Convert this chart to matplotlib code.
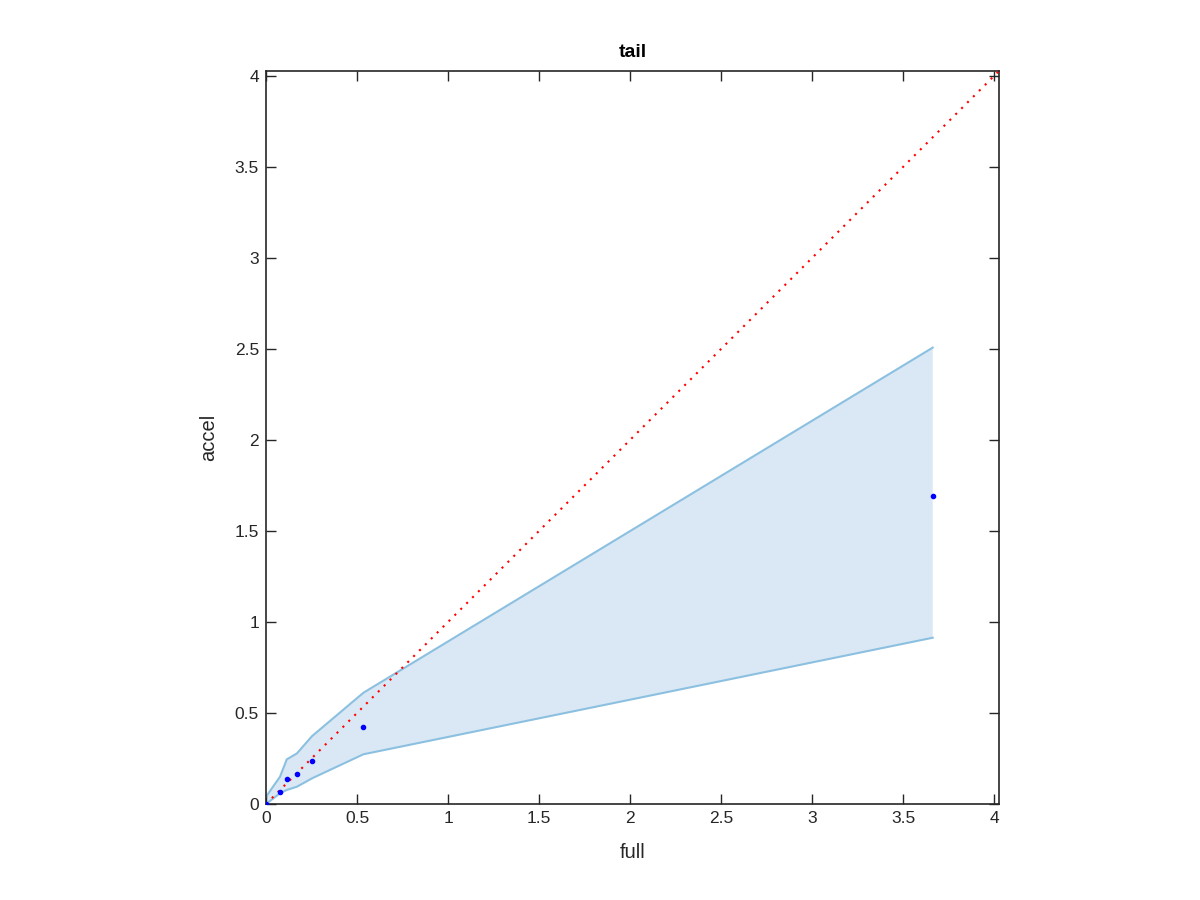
import matplotlib
matplotlib.use("Agg")
import matplotlib.pyplot as plt
import numpy as np

full = [0.0, 0.077, 0.114, 0.170, 0.253, 0.535, 3.661]
accel = [0.0, 0.068, 0.136, 0.167, 0.236, 0.421, 1.689]
upper = [0.04, 0.15, 0.245, 0.278, 0.373, 0.611, 2.506]
lower = [0.0, 0.059, 0.077, 0.095, 0.141, 0.273, 0.913]
lim = 4.025

plt.rcParams['font.family'] = ['Liberation Sans', 'DejaVu Sans']
fig = plt.figure(figsize=(12, 9), dpi=100)
ax = fig.add_axes([266/1200, 96/900, 733/1200, 733/900])

ax.fill_between(full, lower, upper, facecolor='#d9e8f4', edgecolor='none', zorder=1)
ax.plot(full, upper, color='#8cc0e0', lw=1.5, zorder=2)
ax.plot(full, lower, color='#8cc0e0', lw=1.5, zorder=2)
ax.plot([0, lim], [0, lim], color='red', ls=(0, (1, 3)), lw=1.5, zorder=3)
ax.plot(full, accel, 'o', color='blue', ms=3, zorder=4)

ax.set_xlim(0, lim)
ax.set_ylim(0, lim)
ticks = np.arange(0, 4.01, 0.5)
labels = ['0', '0.5', '1', '1.5', '2', '2.5', '3', '3.5', '4']
ax.set_xticks(ticks)
ax.set_xticklabels(labels)
ax.set_yticks(ticks)
ax.set_yticklabels(labels)
ax.tick_params(direction='in', top=True, right=True, length=7, width=1, labelsize=12.5, colors='#262626', pad=5)
for s in ax.spines.values():
    s.set_color('#262626')
    s.set_linewidth(1.2)
ax.set_xlabel('full', fontsize=14.5, color='#262626', labelpad=12)
ax.set_ylabel('accel', fontsize=14.5, color='#262626', labelpad=12)
ax.set_title('tail', fontsize=14, fontweight='bold', pad=10)

fig.savefig('out.png', dpi=100)
